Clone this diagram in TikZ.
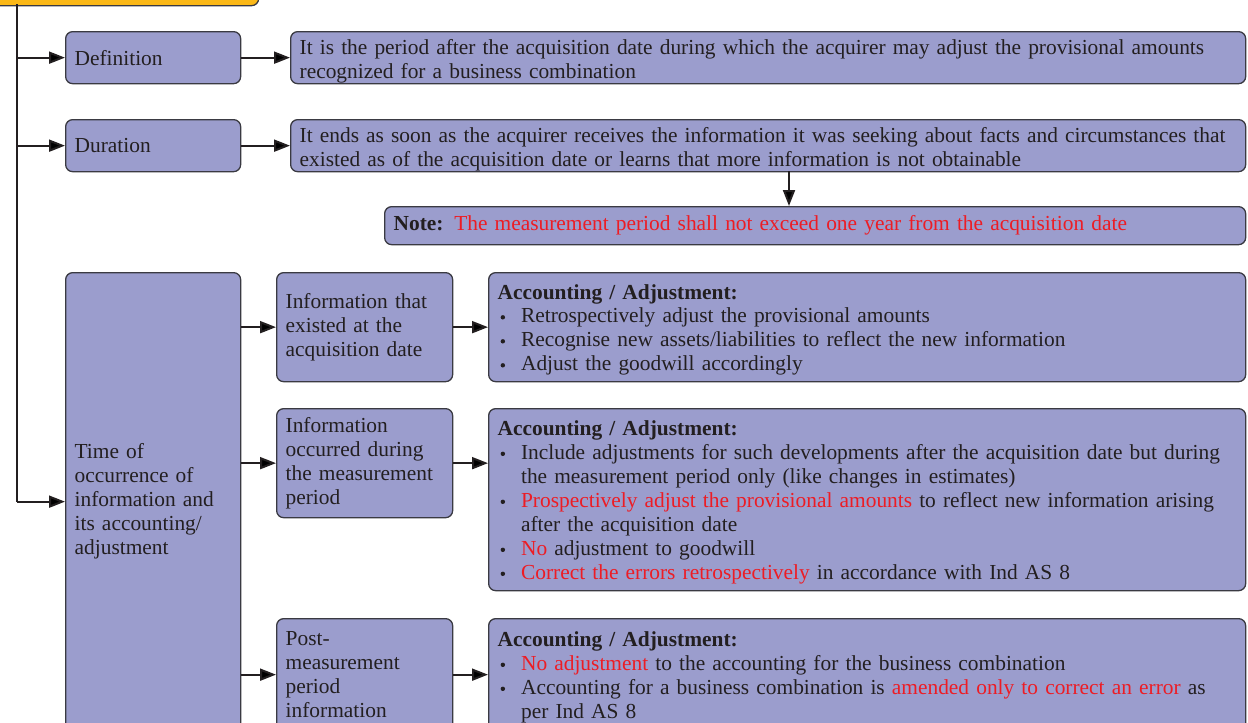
\documentclass[tikz,border=0pt]{standalone}
\usepackage{fontspec}
\setmainfont{Liberation Serif}
\usetikzlibrary{arrows.meta}
\definecolor{boxfill}{HTML}{9B9DCD}
\definecolor{boxline}{HTML}{3A3A42}
\definecolor{txt}{HTML}{231F20}
\definecolor{redtxt}{HTML}{ED1C24}
\definecolor{yell}{HTML}{FBB817}
\newcommand{\rd}[1]{\textcolor{redtxt}{#1}}
\newcommand{\bul}{\tikz[baseline=-5.5pt]\fill[txt] (0,0) circle (2.2pt);}
\newcommand{\tp}{\rule{0pt}{23pt}}
\renewcommand{\arraystretch}{1}
\begin{document}
\begin{tikzpicture}[x=1pt,y=-1pt,
  box/.style={draw=boxline, fill=boxfill, rounded corners=7pt, line width=1.3pt,
    anchor=north west, inner xsep=9pt, inner ysep=0pt, align=left, text=txt,
    font=\fontsize{21.4}{24}\selectfont},
  arr/.style={draw=txt, line width=2pt, -{Triangle[length=16pt,width=12pt]}},
  ln/.style={draw=txt, line width=2pt}]
\useasboundingbox (0,0) rectangle (1248,723);
\begin{scope}
\clip (0,0) rectangle (1248,723);
% top yellow box
\node[box, fill=yell, minimum width=270pt, minimum height=50pt, text width=252pt] (head) at (-12,-45) {};
% level 1
\node[box, minimum width=175pt, minimum height=52pt, text width=157pt] (def) at (65,31) {Definition};
\node[box, minimum width=955pt, minimum height=52pt, text width=937pt] (deft) at (290,31)
  {\tp\mbox{It is the period after the acquisition date during which the acquirer may adjust the provisional amounts}\\recognized for a business combination};
\node[box, minimum width=175pt, minimum height=52pt, text width=157pt] (dur) at (65,119) {Duration};
\node[box, minimum width=955pt, minimum height=52pt, text width=937pt] (durt) at (290,119)
  {\tp\mbox{It ends as soon as the acquirer receives the information it was seeking about facts and circumstances that}\\existed as of the acquisition date or learns that more information is not obtainable};
\node[box, minimum width=861pt, minimum height=38pt, text width=843pt] (note) at (384,206)
  {\textbf{Note:} \rd{The measurement period shall not exceed one year from the acquisition date}};
% time box
\node[box, minimum width=175pt, minimum height=458pt, text width=157pt] (time) at (65,272)
  {Time of\\occurrence of\\information and\\its accounting/\\adjustment};
% info boxes
\node[box, minimum width=176pt, minimum height=109pt, text width=158pt] (inf1) at (276,272)
  {Information that\\existed at the\\acquisition date};
\node[box, minimum width=176pt, minimum height=109pt, text width=158pt] (inf2) at (276,408)
  {Information\\occurred during\\the measurement\\period};
\node[box, minimum width=176pt, minimum height=112pt, text width=158pt] (inf3) at (276,618)
  {Post-\\measurement\\period\\information};
% accounting boxes
\node[box, minimum width=757pt, minimum height=109pt, text width=739pt] (acc1) at (488,272)
  {\tp\textbf{Accounting / Adjustment:}\\[1pt]
   \begin{tabular}{@{\hspace{3pt}}l@{\hspace{16pt}}l@{}}
   \bul & Retrospectively adjust the provisional amounts\\
   \bul & Recognise new assets/liabilities to reflect the new information\\
   \bul & Adjust the goodwill accordingly
   \end{tabular}};
\node[box, minimum width=757pt, minimum height=182pt, text width=739pt] (acc2) at (488,408)
  {\tp\textbf{Accounting / Adjustment:}\\[1pt]
   \begin{tabular}{@{\hspace{3pt}}l@{\hspace{16pt}}l@{}}
   \bul & Include adjustments for such developments after the acquisition date but during\\
        & the measurement period only (like changes in estimates)\\
   \bul & \rd{Prospectively adjust the provisional amounts} to reflect new information arising\\
        & after the acquisition date\\
   \bul & \rd{No} adjustment to goodwill\\
   \bul & \rd{Correct the errors retrospectively} in accordance with Ind AS 8
   \end{tabular}};
\node[box, minimum width=757pt, minimum height=112pt, text width=739pt] (acc3) at (488,618)
  {\tp\textbf{Accounting / Adjustment:}\\[1pt]
   \begin{tabular}{@{\hspace{3pt}}l@{\hspace{16pt}}l@{}}
   \bul & \rd{No adjustment} to the accounting for the business combination\\
   \bul & Accounting for a business combination is \rd{amended only to correct an error} as\\
        & per Ind AS 8
   \end{tabular}};
% connectors
\coordinate (trunk) at (17,4);
\draw[ln] (trunk) -- (trunk |- time.west);
\draw[arr] (trunk |- time.west) -- (time.west);
\draw[arr] (trunk |- def.west) -- (def.west);
\draw[arr] (trunk |- dur.west) -- (dur.west);
\draw[arr] (def.east) -- (deft.west);
\draw[arr] (dur.east) -- (durt.west);
\coordinate (dn) at (789,171);
\draw[arr] (dn) -- (dn |- note.north);
\draw[arr] (time.east |- inf1.west) -- (inf1.west);
\draw[arr] (time.east |- inf2.west) -- (inf2.west);
\draw[arr] (time.east |- inf3.west) -- (inf3.west);
\draw[arr] (inf1.east) -- (inf1.east -| acc1.west);
\draw[arr] (inf2.east) -- (inf2.east -| acc2.west);
\draw[arr] (inf3.east) -- (inf3.east -| acc3.west);
\end{scope}
\end{tikzpicture}
\end{document}
